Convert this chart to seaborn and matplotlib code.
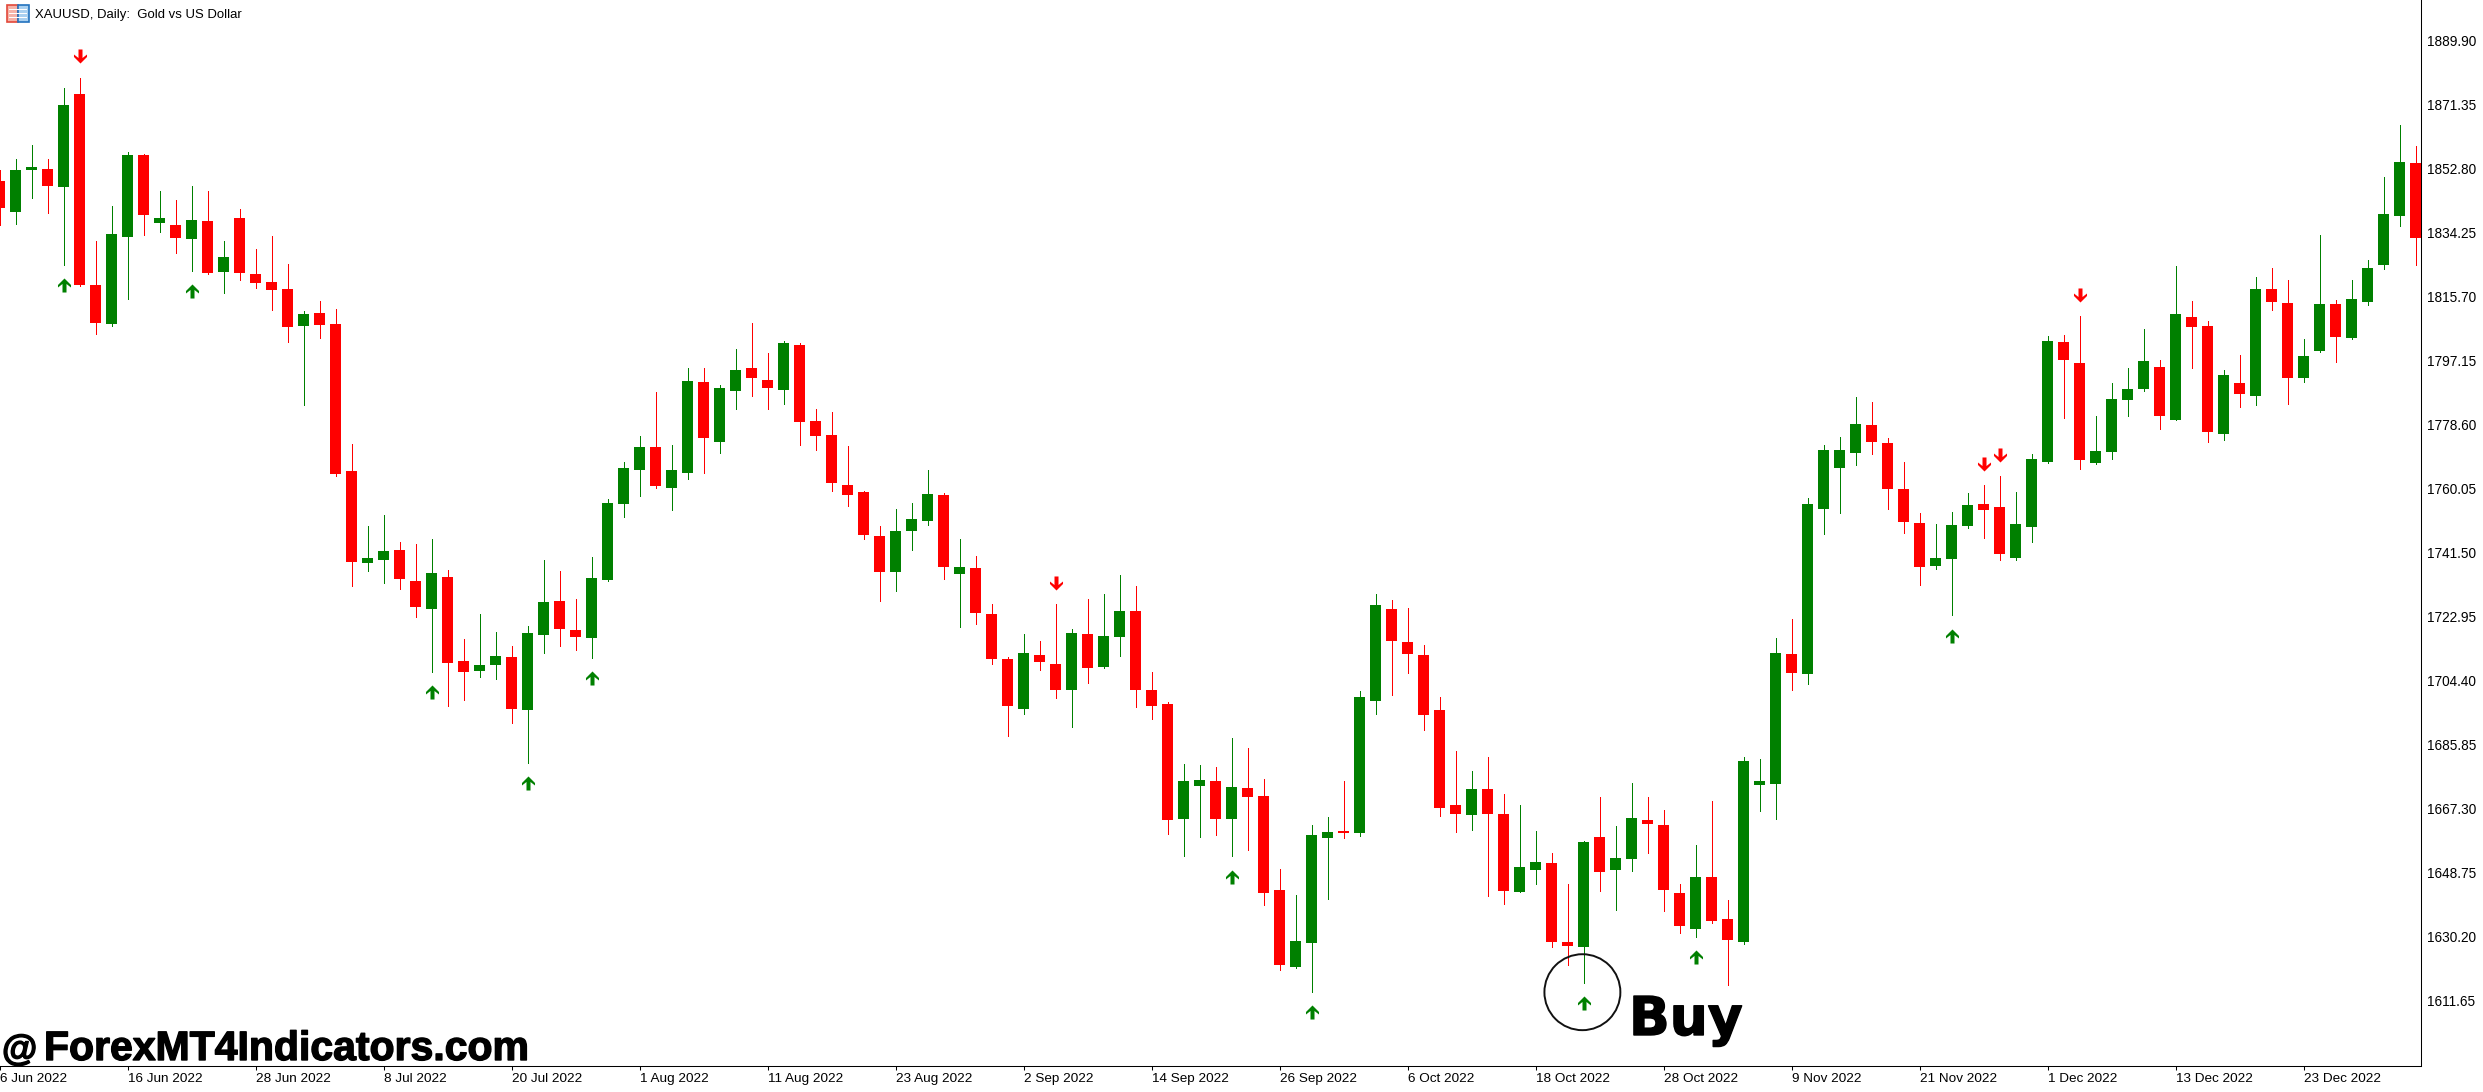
import numpy as np
import pandas as pd
import matplotlib
matplotlib.use('Agg')
import matplotlib.pyplot as plt
import matplotlib.patheffects as pe
from matplotlib.path import Path
from matplotlib.patches import Rectangle
import seaborn as sns

# daily XAUUSD candles
opens = [
    1849.1, 1840.1, 1852.3, 1852.6, 1847.4, 1874.3, 1819.0, 1807.7, 1832.9, 1856.7,
    1836.9, 1836.4, 1832.3, 1837.5, 1822.7, 1838.4, 1822.2, 1819.8, 1817.8, 1807.1,
    1810.9, 1807.7, 1765.1, 1738.4, 1739.3, 1742.2, 1733.2, 1725.1, 1734.3, 1710.0,
    1707.1, 1708.8, 1711.1, 1695.8, 1717.5, 1727.4, 1719.0, 1716.7, 1733.5, 1755.5,
    1765.3, 1772.0, 1760.1, 1764.5, 1790.9, 1773.5, 1788.2, 1794.9, 1791.4, 1788.5,
    1801.6, 1779.5, 1775.5, 1761.0, 1759.0, 1746.2, 1735.8, 1747.7, 1750.6, 1758.1,
    1735.2, 1736.9, 1723.6, 1710.6, 1696.1, 1711.7, 1709.1, 1701.6, 1717.8, 1708.2,
    1716.9, 1724.5, 1701.6, 1697.5, 1664.2, 1673.8, 1675.2, 1664.2, 1673.2, 1670.9,
    1643.6, 1621.3, 1628.2, 1658.7, 1660.7, 1660.1, 1698.4, 1725.1, 1715.5, 1711.7,
    1695.8, 1668.2, 1665.3, 1672.9, 1665.6, 1643.0, 1649.4, 1651.4, 1628.5, 1627.1,
    1659.0, 1649.4, 1652.6, 1663.9, 1662.5, 1642.7, 1632.3, 1647.4, 1635.2, 1628.5,
    1674.0, 1674.3, 1712.0, 1706.2, 1754.0, 1765.9, 1770.3, 1778.4, 1773.2, 1759.8,
    1750.0, 1737.5, 1739.6, 1749.1, 1755.5, 1754.6, 1739.8, 1748.8, 1767.7, 1802.4,
    1796.4, 1767.4, 1770.6, 1785.6, 1788.8, 1795.2, 1779.8, 1809.7, 1807.1, 1775.8,
    1790.6, 1786.8, 1817.8, 1813.8, 1792.0, 1799.8, 1813.5, 1803.6, 1814.0, 1824.8,
    1839.0, 1854.3,
]
closes = [
    1841.3, 1852.3, 1853.2, 1847.7, 1871.1, 1819.0, 1808.0, 1833.8, 1856.7, 1839.3,
    1838.4, 1832.6, 1837.8, 1822.4, 1827.1, 1822.4, 1819.5, 1817.5, 1806.8, 1810.6,
    1807.4, 1764.2, 1738.7, 1739.8, 1741.9, 1733.8, 1725.6, 1735.5, 1709.4, 1706.8,
    1708.8, 1711.4, 1696.1, 1718.1, 1727.1, 1719.3, 1716.9, 1734.0, 1755.8, 1765.9,
    1772.0, 1760.7, 1765.3, 1791.1, 1774.6, 1789.1, 1794.3, 1792.0, 1789.1, 1802.2,
    1779.3, 1775.2, 1761.6, 1758.1, 1746.5, 1735.8, 1747.7, 1751.1, 1758.4, 1737.2,
    1737.2, 1723.9, 1710.6, 1696.9, 1712.3, 1709.7, 1701.6, 1718.1, 1708.0, 1717.2,
    1724.5, 1701.6, 1696.9, 1663.9, 1675.2, 1675.5, 1664.2, 1673.5, 1670.6, 1642.7,
    1621.9, 1628.8, 1659.6, 1660.4, 1660.1, 1699.6, 1726.2, 1715.8, 1712.0, 1694.3,
    1667.4, 1665.6, 1672.9, 1665.6, 1643.3, 1650.3, 1651.7, 1628.5, 1627.4, 1657.5,
    1648.8, 1652.9, 1664.5, 1662.7, 1643.6, 1633.2, 1647.4, 1634.6, 1629.1, 1681.0,
    1675.2, 1712.3, 1706.5, 1755.5, 1771.1, 1771.1, 1778.7, 1773.5, 1759.8, 1750.3,
    1737.2, 1739.8, 1749.4, 1755.2, 1753.8, 1741.0, 1749.7, 1768.5, 1802.7, 1797.2,
    1768.2, 1770.9, 1785.9, 1788.8, 1796.9, 1781.0, 1810.6, 1806.8, 1776.4, 1792.9,
    1787.4, 1817.8, 1814.0, 1792.0, 1798.4, 1813.5, 1803.9, 1814.9, 1823.9, 1839.6,
    1854.6, 1832.6,
]
highs = [
    1852.3, 1855.5, 1859.6, 1855.5, 1876.1, 1879.0, 1831.7, 1841.9, 1857.5, 1856.9,
    1846.2, 1843.6, 1847.7, 1846.2, 1831.7, 1841.0, 1829.4, 1833.2, 1825.1, 1811.4,
    1814.3, 1812.0, 1772.9, 1749.1, 1752.3, 1744.5, 1743.9, 1745.4, 1736.4, 1716.4,
    1723.6, 1718.4, 1714.3, 1720.1, 1739.3, 1736.1, 1728.0, 1740.1, 1756.9, 1767.7,
    1775.2, 1788.0, 1772.6, 1794.9, 1794.9, 1790.0, 1800.4, 1808.0, 1799.3, 1802.7,
    1802.2, 1783.0, 1782.2, 1772.3, 1759.3, 1749.1, 1754.0, 1755.8, 1765.3, 1758.7,
    1745.4, 1740.4, 1726.5, 1711.1, 1717.8, 1715.8, 1726.5, 1719.3, 1728.0, 1729.4,
    1734.9, 1731.7, 1706.8, 1698.1, 1680.1, 1679.8, 1679.3, 1687.7, 1684.8, 1675.8,
    1649.7, 1642.2, 1662.5, 1664.8, 1675.2, 1701.3, 1729.4, 1727.7, 1725.4, 1714.6,
    1699.6, 1683.9, 1678.1, 1682.2, 1671.4, 1668.2, 1660.7, 1654.3, 1645.3, 1657.8,
    1670.6, 1662.2, 1674.6, 1670.6, 1666.8, 1645.3, 1656.7, 1669.4, 1640.7, 1682.2,
    1681.6, 1716.7, 1722.2, 1757.2, 1772.6, 1774.9, 1786.5, 1785.1, 1774.6, 1767.7,
    1752.9, 1749.7, 1753.2, 1758.7, 1761.0, 1763.6, 1759.0, 1770.0, 1804.2, 1804.5,
    1810.0, 1781.0, 1790.6, 1794.9, 1806.2, 1797.2, 1824.5, 1814.3, 1808.5, 1794.3,
    1798.7, 1821.3, 1823.9, 1820.4, 1803.3, 1833.5, 1814.6, 1820.4, 1826.2, 1850.3,
    1865.4, 1859.3,
]
lows = [
    1836.4, 1836.7, 1844.2, 1839.8, 1824.8, 1818.7, 1804.8, 1807.1, 1814.9, 1833.5,
    1834.3, 1828.3, 1823.0, 1822.2, 1816.6, 1820.4, 1818.1, 1811.7, 1802.4, 1784.2,
    1803.6, 1763.6, 1731.7, 1736.1, 1732.6, 1730.9, 1722.7, 1706.8, 1696.9, 1698.7,
    1705.3, 1704.8, 1692.0, 1680.4, 1712.3, 1714.3, 1713.2, 1710.9, 1733.2, 1751.7,
    1757.8, 1760.1, 1753.8, 1762.7, 1764.5, 1770.3, 1783.0, 1786.8, 1783.0, 1784.5,
    1772.6, 1771.1, 1759.3, 1754.9, 1745.4, 1727.4, 1730.3, 1742.2, 1749.4, 1733.8,
    1719.8, 1720.7, 1709.1, 1688.2, 1694.6, 1707.4, 1699.3, 1690.9, 1703.6, 1708.0,
    1711.4, 1696.6, 1693.2, 1659.8, 1653.5, 1659.0, 1659.6, 1653.5, 1655.2, 1639.3,
    1620.4, 1621.0, 1614.0, 1641.0, 1658.7, 1659.3, 1694.6, 1700.1, 1706.5, 1690.0,
    1665.1, 1660.4, 1661.0, 1641.9, 1639.6, 1643.0, 1645.3, 1627.1, 1621.9, 1616.6,
    1643.3, 1637.8, 1649.1, 1654.3, 1637.5, 1631.1, 1630.0, 1634.0, 1616.1, 1628.0,
    1666.5, 1664.2, 1701.6, 1703.3, 1746.8, 1752.9, 1766.8, 1770.0, 1754.0, 1747.1,
    1732.0, 1736.7, 1723.3, 1748.5, 1745.6, 1739.3, 1739.3, 1744.5, 1767.5, 1780.4,
    1765.6, 1767.1, 1768.5, 1781.0, 1788.2, 1777.2, 1779.8, 1794.9, 1773.5, 1774.0,
    1783.6, 1784.2, 1811.7, 1784.5, 1790.9, 1799.6, 1796.6, 1803.3, 1813.2, 1823.6,
    1836.1, 1824.8,
]

# indicator arrows: candle number and price
buy_idx = [4, 12, 27, 33, 37, 77, 82, 99, 106, 122]
buy_price = [1819.0, 1817.2, 1701.0, 1674.6, 1705.0, 1647.4, 1608.2, 1610.9, 1624.2, 1717.2]
sell_idx = [5, 66, 124, 125, 130]
sell_price = [1885.4, 1732.6, 1767.1, 1769.7, 1816.1]

price_ticks = [1889.90, 1871.35, 1852.80, 1834.25, 1815.70, 1797.15, 1778.60, 1760.05,
               1741.50, 1722.95, 1704.40, 1685.85, 1667.30, 1648.75, 1630.20, 1611.65]
date_labels = ['6 Jun 2022', '16 Jun 2022', '28 Jun 2022', '8 Jul 2022', '20 Jul 2022',
               '1 Aug 2022', '11 Aug 2022', '23 Aug 2022', '2 Sep 2022', '14 Sep 2022',
               '26 Sep 2022', '6 Oct 2022', '18 Oct 2022', '28 Oct 2022', '9 Nov 2022',
               '21 Nov 2022', '1 Dec 2022', '13 Dec 2022', '23 Dec 2022']

GREEN = '#008000'
RED = '#FF0000'
W, H = 2483, 1092
AX_RIGHT, AX_BOTTOM = 2420.5, 1065.5
CANDLE_PX = 16
UNITS_PER_PX = 18.55 / 64

sns.set_theme(style='white', rc={
    'axes.edgecolor': 'black',
    'axes.linewidth': 0.75,
    'xtick.color': 'black',
    'ytick.color': 'black',
    'xtick.bottom': True,
    'ytick.right': True,
})
plt.rcParams['font.family'] = ['Liberation Sans', 'DejaVu Sans']

candles = pd.DataFrame({'open': opens, 'high': highs, 'low': lows, 'close': closes})
candles['idx'] = np.arange(len(candles))
candles['top'] = candles[['open', 'close']].max(axis=1)
candles['bottom'] = candles[['open', 'close']].min(axis=1)
candles['body'] = candles['top'] - candles['bottom']
candles['side'] = np.where(candles['close'] >= candles['open'], 'up', 'down')

wicks = candles.melt(id_vars=['idx', 'side'], value_vars=['low', 'high'], value_name='price')
wicks['candle'] = wicks['idx']

fig = plt.figure(figsize=(W / 100, H / 100), dpi=100, facecolor='white')
ax = fig.add_axes([0, 1 - AX_BOTTOM / H, AX_RIGHT / W, AX_BOTTOM / H])

sns.lineplot(data=wicks, x='idx', y='price', units='candle', hue='side', estimator=None,
             sort=False, palette={'up': GREEN, 'down': RED}, linewidth=0.72, legend=False,
             antialiased=False, ax=ax)

for side, color in [('up', GREEN), ('down', RED)]:
    part = candles[candles['side'] == side]
    sns.barplot(data=part, x='idx', y='body', bottom=part['bottom'].to_numpy(), color=color,
                native_scale=True, orient='x', width=11 / CANDLE_PX, errorbar=None,
                saturation=1, linewidth=0, antialiased=False, zorder=3, ax=ax)

# same arrow shape the terminal draws, tip up
arrow_verts = [(0, 7), (6.5, 0.5), (6.5, -2), (2, 1.5), (2, -7), (-2, -7), (-2, 1.5), (-6.5, -2), (-6.5, 0.5), (0, 7)]
up_arrow = Path(arrow_verts, closed=True)
down_arrow = Path([(x, -y) for x, y in arrow_verts], closed=True)
sns.scatterplot(x=buy_idx, y=buy_price, marker=up_arrow, s=102, color=GREEN, linewidth=0,
                zorder=4, ax=ax)
sns.scatterplot(x=sell_idx, y=sell_price, marker=down_arrow, s=102, color=RED, linewidth=0,
                zorder=4, ax=ax)

# the hand drawn circle round the buy arrow
ax.scatter([98.92], [1614.0], s=2990, facecolors='none', edgecolors='#111111', linewidths=1.4, zorder=5)

ax.set_xlim(0.5 / CANDLE_PX, (AX_RIGHT + 0.5) / CANDLE_PX)
y_top = price_ticks[0] + 40.3 * UNITS_PER_PX
ax.set_ylim(y_top - AX_BOTTOM * UNITS_PER_PX, y_top)

ax.yaxis.tick_right()
ax.set_yticks(price_ticks)
ax.set_yticklabels([f'{p:.2f}' for p in price_ticks], fontsize=9.8)
ax.set_xticks(np.arange(len(date_labels)) * 8)
ax.set_xticklabels(date_labels, fontsize=9.7, ha='left')
ax.tick_params(axis='y', length=3.6, width=0.75, pad=1.2)
ax.tick_params(axis='x', length=2.9, width=0.75, pad=2.5)
ax.set_xlabel('')
ax.set_ylabel('')
sns.despine(ax=ax, left=True, top=True, right=False, bottom=False)

# terminal header
fig.text(35 / W, 1 - 15 / H, 'XAUUSD, Daily:  Gold vs US Dollar', fontsize=9.45, color='black', va='center')
icon = [((7, 5, 11, 17), '#F6B3A8', '#E2483A'), ((18, 5, 11, 17), '#A9D0F0', '#2272BE')]
for (x, y, w, h), fc, ec in icon:
    fig.add_artist(Rectangle((x / W, 1 - (y + h) / H), w / W, h / H, transform=fig.transFigure,
                             facecolor=fc, edgecolor=ec, linewidth=1.2))
for y in [10, 14, 18]:
    fig.add_artist(Rectangle((9 / W, 1 - y / H), 18 / W, 1.2 / H, transform=fig.transFigure,
                             facecolor='white', edgecolor='none'))

buy_text = fig.text(1629 / W, 1 - 1035 / H, 'Buy', fontsize=38.5, fontweight='bold', family='DejaVu Sans',
                    color='black', va='baseline')
buy_text.set_path_effects([pe.withStroke(linewidth=1.0, foreground='black')])
at_sign = fig.text(2 / W, 1 - 1060 / H, '@', fontsize=26, fontweight='bold', color='black', va='baseline')
logo = fig.text(44 / W, 1 - 1060 / H, 'ForexMT4Indicators.com', fontsize=29.5, fontweight='bold',
                color='black', va='baseline')
for t in [at_sign, logo]:
    t.set_path_effects([pe.withStroke(linewidth=1.0, foreground='black')])

fig.savefig('out.png', dpi=100, facecolor='white')
plt.close(fig)
